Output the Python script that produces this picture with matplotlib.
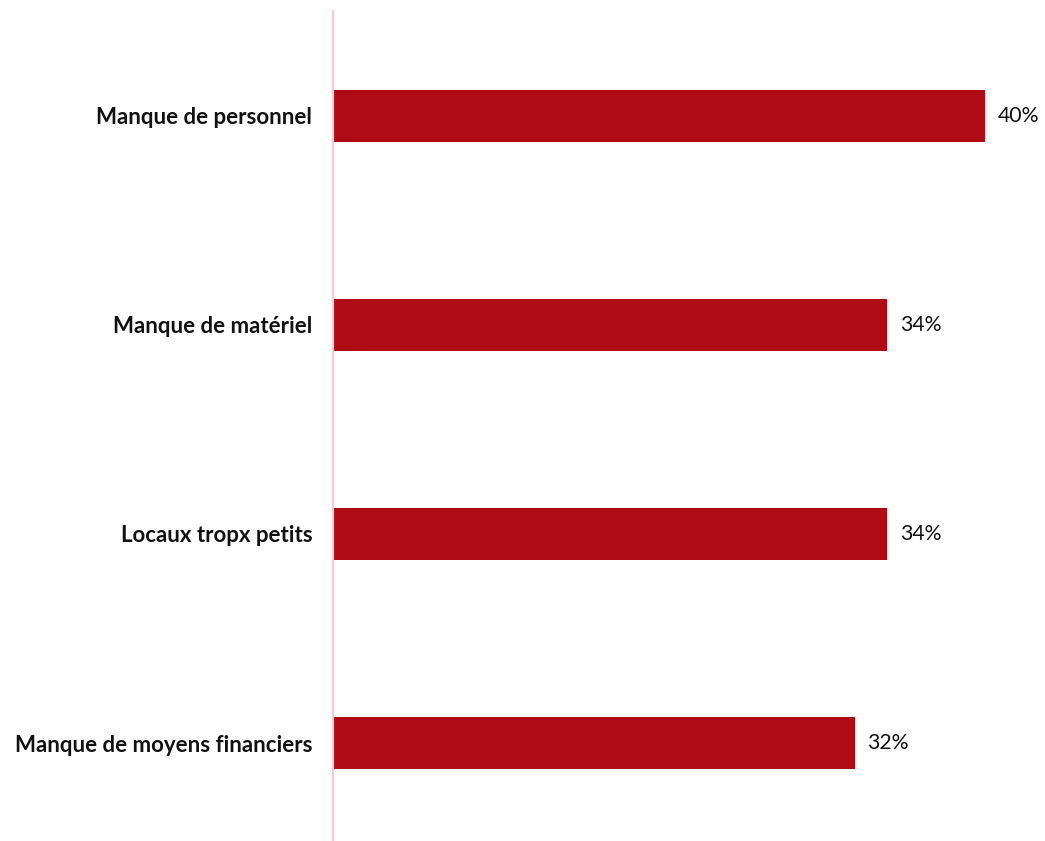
import matplotlib
matplotlib.use("Agg")
import matplotlib.pyplot as plt

categories = ["Manque de personnel", "Manque de matériel",
              "Locaux tropx petits", "Manque de moyens financiers"]
values = [40, 34, 34, 32]

bar_color = "#AF0B14"
axis_color = "#FFC9CE"

plt.rcParams["font.family"] = ["Lato", "DejaVu Sans"]

fig = plt.figure(figsize=(10.45, 8.41), dpi=100)
W, H = 1045, 841
left, right, top, bottom = 333, 985, 11, 840
ax = fig.add_axes([left / W, 1 - bottom / H, (right - left) / W, (bottom - top) / H])

pos = list(range(len(categories)))
ax.barh(pos, values, height=0.249, color=bar_color)
ax.set_xlim(0, 40)
ax.set_ylim(3.464, -0.502)

for p, v in zip(pos, values):
    ax.annotate("%d%%" % v, (v, p), xytext=(9, 0), textcoords="offset points",
                va="center", ha="left", fontsize=15.3, color="#111111",
                annotation_clip=False)

ax.set_yticks(pos)
ax.set_yticklabels(categories, fontsize=16, fontweight="bold", color="#111111")
ax.tick_params(axis="y", length=0, pad=15)
ax.set_xticks([])

for s in ["top", "right", "bottom"]:
    ax.spines[s].set_visible(False)
ax.spines["left"].set_color(axis_color)
ax.spines["left"].set_linewidth(1.6)

fig.savefig("out.png", dpi=100)
